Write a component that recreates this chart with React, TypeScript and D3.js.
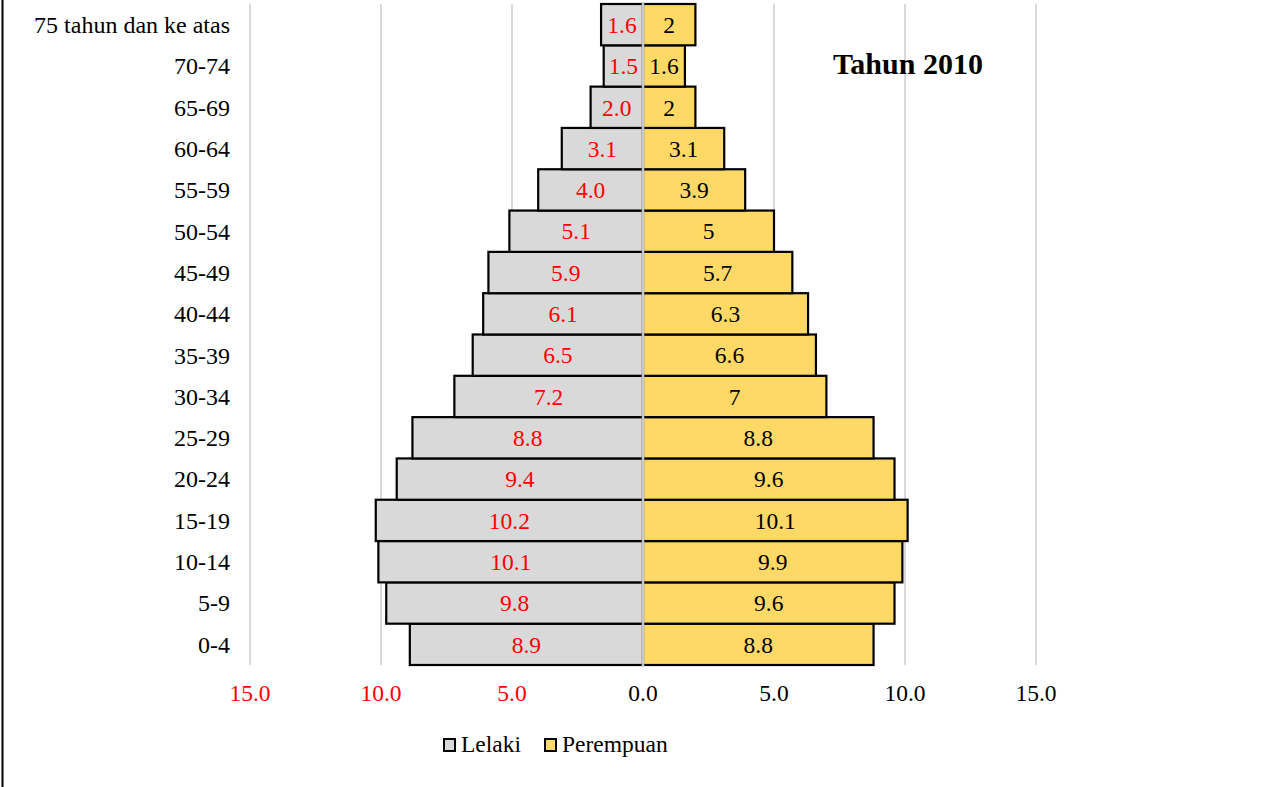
import { useEffect, useRef } from 'react';
import * as d3 from 'd3';

const AGE_GROUPS = [
  '0-4', '5-9', '10-14', '15-19', '20-24', '25-29', '30-34', '35-39',
  '40-44', '45-49', '50-54', '55-59', '60-64', '65-69', '70-74', '75 tahun dan ke atas',
];
const MALE = [8.9, 9.8, 10.1, 10.2, 9.4, 8.8, 7.2, 6.5, 6.1, 5.9, 5.1, 4.0, 3.1, 2.0, 1.5, 1.6];
const FEMALE = [8.8, 9.6, 9.9, 10.1, 9.6, 8.8, 7, 6.6, 6.3, 5.7, 5, 3.9, 3.1, 2, 1.6, 2];
const TICKS = [-15, -10, -5, 0, 5, 10, 15];
const LEGEND = [
  { label: 'Lelaki', color: '#d9d9d9' },
  { label: 'Perempuan', color: '#ffd966' },
];

const App = () => {
  const svgRef = useRef<SVGSVGElement>(null);

  useEffect(() => {
    if (!svgRef.current) return;
    const svg = d3.select(svgRef.current);
    svg.selectAll('*').remove();

    const width = 1279;
    const height = 787;
    const font = '"Liberation Serif", "Times New Roman", serif';
    const fs = 23.5;

    const x = d3.scaleLinear().domain([-15, 15]).range([250, 1036]);
    const y = d3
      .scaleBand<string>()
      .domain([...AGE_GROUPS].reverse())
      .range([4, 665])
      .padding(0);

    svg.attr('width', width).attr('height', height).style('font-family', font);

    // left frame edge
    svg
      .append('line')
      .attr('x1', 2.5)
      .attr('x2', 2.5)
      .attr('y1', 0)
      .attr('y2', height)
      .attr('stroke', '#000')
      .attr('stroke-width', 2);

    // gridlines
    svg
      .append('g')
      .selectAll('line')
      .data(TICKS)
      .join('line')
      .attr('x1', (d) => x(d))
      .attr('x2', (d) => x(d))
      .attr('y1', 4)
      .attr('y2', 665)
      .attr('stroke', '#d9d9d9')
      .attr('stroke-width', 2);

    const rows = AGE_GROUPS.map((g, i) => ({ g, m: MALE[i], f: FEMALE[i] }));

    // male bars
    svg
      .append('g')
      .selectAll('rect')
      .data(rows)
      .join('rect')
      .attr('x', (d) => x(-d.m))
      .attr('y', (d) => y(d.g)!)
      .attr('width', (d) => x(0) - x(-d.m))
      .attr('height', y.bandwidth())
      .attr('fill', '#d9d9d9')
      .attr('stroke', '#000')
      .attr('stroke-width', 2.2);

    // female bars
    svg
      .append('g')
      .selectAll('rect')
      .data(rows)
      .join('rect')
      .attr('x', x(0))
      .attr('y', (d) => y(d.g)!)
      .attr('width', (d) => x(d.f) - x(0))
      .attr('height', y.bandwidth())
      .attr('fill', '#ffd966')
      .attr('stroke', '#000')
      .attr('stroke-width', 2.2);

    // zero line on top
    svg
      .append('line')
      .attr('x1', x(0))
      .attr('x2', x(0))
      .attr('y1', 3)
      .attr('y2', 666)
      .attr('stroke', '#c8c8c8')
      .attr('stroke-width', 2.5);

    // value labels
    svg
      .append('g')
      .selectAll('text')
      .data(rows)
      .join('text')
      .attr('x', (d) => (x(-d.m) + x(0)) / 2)
      .attr('y', (d) => y(d.g)! + y.bandwidth() / 2)
      .attr('dy', '0.35em')
      .attr('text-anchor', 'middle')
      .attr('font-size', fs)
      .attr('fill', '#ff0000')
      .text((d) => d.m.toFixed(1));

    svg
      .append('g')
      .selectAll('text')
      .data(rows)
      .join('text')
      .attr('x', (d) => (x(d.f) + x(0)) / 2)
      .attr('y', (d) => y(d.g)! + y.bandwidth() / 2)
      .attr('dy', '0.35em')
      .attr('text-anchor', 'middle')
      .attr('font-size', fs)
      .attr('fill', '#000')
      .text((d) => String(d.f));

    // category labels
    svg
      .append('g')
      .selectAll('text')
      .data(AGE_GROUPS)
      .join('text')
      .attr('x', 230)
      .attr('y', (d) => y(d)! + y.bandwidth() / 2)
      .attr('dy', '0.35em')
      .attr('text-anchor', 'end')
      .attr('font-size', 24)
      .attr('fill', '#000')
      .text((d) => d);

    // x tick labels
    svg
      .append('g')
      .selectAll('text')
      .data(TICKS)
      .join('text')
      .attr('x', (d) => x(d))
      .attr('y', 701)
      .attr('text-anchor', 'middle')
      .attr('font-size', fs)
      .attr('fill', (d) => (d < 0 ? '#ff0000' : '#000'))
      .text((d) => Math.abs(d).toFixed(1));

    // title
    svg
      .append('text')
      .attr('x', 908)
      .attr('y', 74)
      .attr('text-anchor', 'middle')
      .attr('font-size', 30)
      .attr('font-weight', 'bold')
      .attr('fill', '#000')
      .text('Tahun 2010');

    // legend
    const legendX = [444, 545];
    const legend = svg
      .append('g')
      .selectAll('g')
      .data(LEGEND)
      .join('g')
      .attr('transform', (_, i) => `translate(${legendX[i]},739)`);

    legend
      .append('rect')
      .attr('width', 11)
      .attr('height', 12)
      .attr('fill', (d) => d.color)
      .attr('stroke', '#000')
      .attr('stroke-width', 2);

    legend
      .append('text')
      .attr('x', 17)
      .attr('y', 13)
      .attr('font-size', fs)
      .attr('fill', '#000')
      .text((d) => d.label);
  }, []);

  return (
    <div style={{ position: 'absolute', left: 0, top: 0, background: '#fff' }}>
      <svg ref={svgRef} style={{ display: 'block' }} />
    </div>
  );
};

export default App;
